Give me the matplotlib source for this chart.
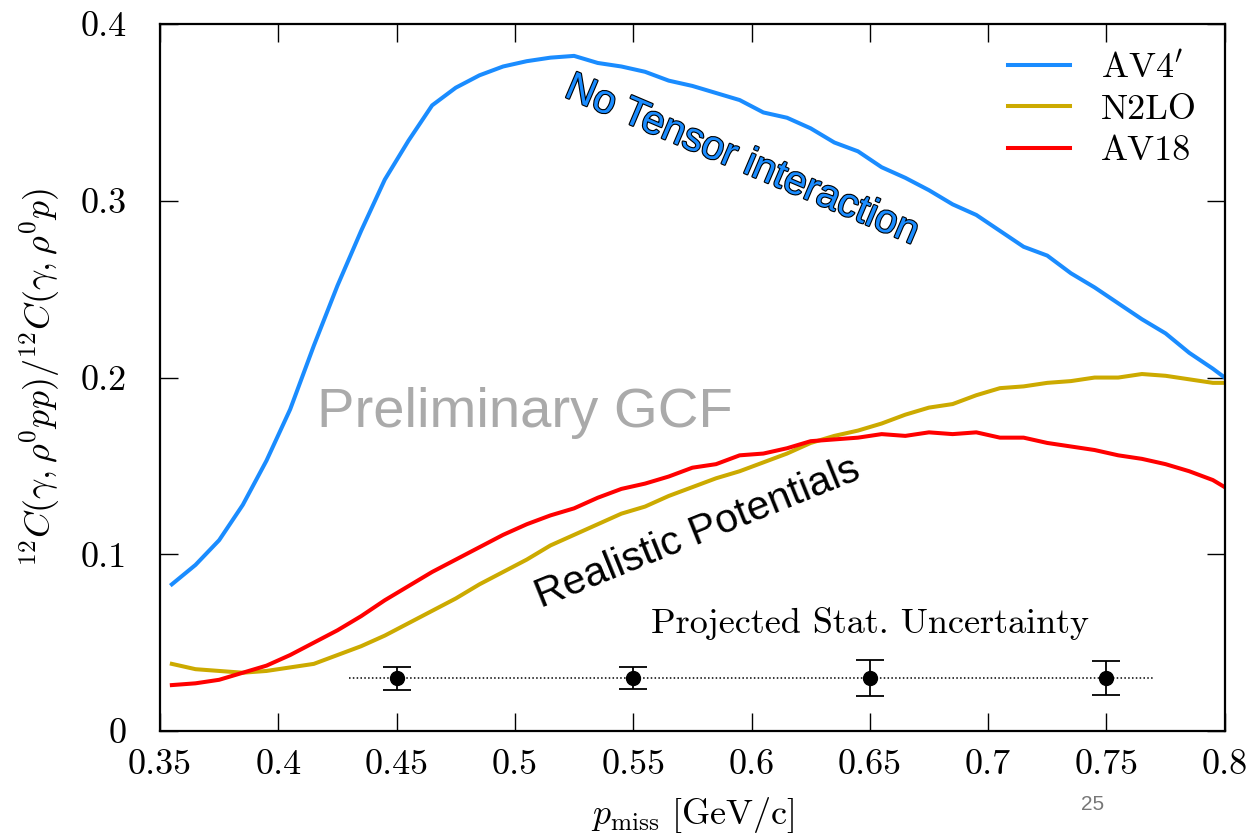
import matplotlib
matplotlib.use("Agg")
import matplotlib.pyplot as plt
import matplotlib.patheffects as pe
import numpy as np

# ============================
# Data
# ============================
p_miss = [0.355, 0.365, 0.375, 0.385, 0.395, 0.405, 0.415, 0.425, 0.435, 0.445,
          0.455, 0.465, 0.475, 0.485, 0.495, 0.505, 0.515, 0.525, 0.535, 0.545,
          0.555, 0.565, 0.575, 0.585, 0.595, 0.605, 0.615, 0.625, 0.635, 0.645,
          0.655, 0.665, 0.675, 0.685, 0.695, 0.705, 0.715, 0.725, 0.735, 0.745,
          0.755, 0.765, 0.775, 0.785, 0.795, 0.800]

av4 = [0.083, 0.094, 0.108, 0.128, 0.153, 0.182, 0.218, 0.252, 0.283, 0.312,
       0.334, 0.354, 0.364, 0.371, 0.376, 0.379, 0.381, 0.382, 0.378, 0.376,
       0.373, 0.368, 0.365, 0.361, 0.357, 0.350, 0.347, 0.341, 0.333, 0.328,
       0.319, 0.313, 0.306, 0.298, 0.292, 0.283, 0.274, 0.269, 0.259, 0.251,
       0.242, 0.233, 0.225, 0.214, 0.205, 0.200]

n2lo = [0.038, 0.035, 0.034, 0.033, 0.034, 0.036, 0.038, 0.043, 0.048, 0.054,
        0.061, 0.068, 0.075, 0.083, 0.090, 0.097, 0.105, 0.111, 0.117, 0.123,
        0.127, 0.133, 0.138, 0.143, 0.147, 0.152, 0.157, 0.163, 0.167, 0.170,
        0.174, 0.179, 0.183, 0.185, 0.190, 0.194, 0.195, 0.197, 0.198, 0.200,
        0.200, 0.202, 0.201, 0.199, 0.197, 0.197]

av18 = [0.026, 0.027, 0.029, 0.033, 0.037, 0.043, 0.050, 0.057, 0.065, 0.074,
        0.082, 0.090, 0.097, 0.104, 0.111, 0.117, 0.122, 0.126, 0.132, 0.137,
        0.140, 0.144, 0.149, 0.151, 0.156, 0.157, 0.160, 0.164, 0.165, 0.166,
        0.168, 0.167, 0.169, 0.168, 0.169, 0.166, 0.166, 0.163, 0.161, 0.159,
        0.156, 0.154, 0.151, 0.147, 0.142, 0.138]

proj_x = [0.45, 0.55, 0.65, 0.75]
proj_y = [0.03, 0.03, 0.03, 0.03]
proj_err = [0.0065, 0.006, 0.010, 0.0095]
proj_line_x = [0.43, 0.77]

xticks = [0.35, 0.4, 0.45, 0.5, 0.55, 0.6, 0.65, 0.7, 0.75, 0.8]
xtick_labels = ["0.35", "0.4", "0.45", "0.5", "0.55", "0.6", "0.65", "0.7", "0.75", "0.8"]
yticks = [0, 0.1, 0.2, 0.3, 0.4]
ytick_labels = ["0", "0.1", "0.2", "0.3", "0.4"]

# ============================
# Style
# ============================
plt.rcParams["font.family"] = "serif"
plt.rcParams["font.serif"] = ["cmr10"]
plt.rcParams["mathtext.fontset"] = "cm"
plt.rcParams["axes.unicode_minus"] = False

fig = plt.figure(figsize=(12.6, 8.33), dpi=100)
ax = fig.add_axes([0.127, 0.1224, 0.845, 0.8487])

ax.plot(p_miss, av4, color="#1a8cff", lw=2.9, label=r"AV4$^{\prime}$")
ax.plot(p_miss, n2lo, color="#ccaa00", lw=2.9, label="N2LO")
ax.plot(p_miss, av18, color="#ff0000", lw=2.9, label="AV18")

# projected uncertainty
ax.plot(proj_line_x, [proj_y[0], proj_y[0]], color="black", lw=1.1, ls=(0, (1, 1.5)))
ax.errorbar(proj_x, proj_y, yerr=proj_err, fmt="o", color="black", ms=10,
            capsize=10, elinewidth=1.3, capthick=1.3)
ax.text(0.65, 0.061, "Projected Stat. Uncertainty", fontsize=26,
        ha="center", va="center")

# annotations
ax.text(0.596, 0.323, "No Tensor interaction", fontsize=29, family="Liberation Sans",
        color="#1a8cff", rotation=-23, ha="center", va="center",
        path_effects=[pe.withStroke(linewidth=1.6, foreground="black")])
ax.text(0.577, 0.112, "Realistic Potentials", fontsize=29.5, family="Liberation Sans",
        color="black", rotation=22, ha="center", va="center")
ax.text(0.504, 0.180, "Preliminary GCF", fontsize=40.5, family="Liberation Sans",
        color="#aaaaaa", ha="center", va="center")

# axes
ax.set_xlim(0.35, 0.8)
ax.set_ylim(0, 0.4)
ax.set_xticks(xticks)
ax.set_xticklabels(xtick_labels)
ax.set_yticks(yticks)
ax.set_yticklabels(ytick_labels)
ax.tick_params(direction="in", length=13, width=1.0, top=True, right=True,
               labelsize=26)
ax.tick_params(axis="x", pad=13)
ax.tick_params(axis="y", pad=24)
for s in ax.spines.values():
    s.set_linewidth(1.6)

ax.set_xlabel(r"$p_{\mathrm{miss}}\ \mathrm{[GeV/c]}$", fontsize=26, labelpad=10)
ax.set_ylabel(r"${}^{12}C(\gamma,\rho^0pp)/{}^{12}C(\gamma,\rho^0p)$", fontsize=26)
ax.yaxis.set_label_coords(-0.092, 0.5)

ax.legend(loc="upper right", frameon=False, fontsize=26, handlelength=1.72,
          handletextpad=0.86, labelspacing=0.25, borderaxespad=0.38)

fig.text(0.867, 0.034, "25", fontsize=15, color="#777777", family="Liberation Sans",
         ha="center", va="center")

fig.savefig("out.png", dpi=100)
